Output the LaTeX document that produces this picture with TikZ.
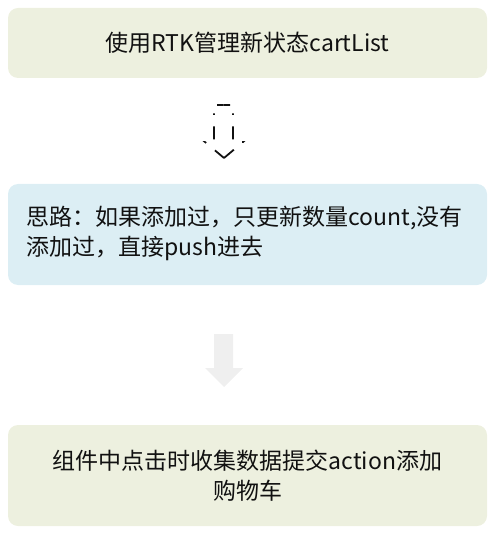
\documentclass[tikz,border=0pt]{standalone}
\usepackage{fontspec}
\setmainfont{Noto Sans CJK SC}
\usetikzlibrary{positioning}
\definecolor{color_step}{HTML}{EDF0DF}
\definecolor{color_idea}{HTML}{DCEEF4}
\definecolor{color_arrow}{HTML}{EFEFEF}
\definecolor{color_text}{HTML}{111111}
\tikzset{
  flow_box/.style={rounded corners=10pt, minimum width=479pt, inner sep=0pt, text=color_text,
    font=\fontsize{23}{30}\selectfont},
  flow_dash/.style={draw=color_text, line width=1.8pt, dash pattern=on 13pt off 11.5pt on 1.5pt off 11.5pt,
    dash phase=6.5pt},
  flow_block/.style={fill=color_arrow, draw=none},
}
\begin{document}
\begin{tikzpicture}[x=1pt, y=-1pt]
    \useasboundingbox (0,0) rectangle (501,534);
    \node[flow_box, fill=color_step, minimum height=70pt] (rtk) at (247.5,43) {使用RTK管理新状态cartList};
    \node[flow_box, fill=color_idea, minimum height=101pt] (idea) at (247.5,234.5) {};
    \node[text=color_text, font=\fontsize{23}{30}\selectfont, align=left, anchor=west, inner sep=0pt]
      (idea_text) at (26,233) {思路：如果添加过，只更新数量count,没有\\添加过，直接push进去};
    \node[flow_box, fill=color_step, minimum height=101pt, align=center] (submit) at (247.5,475.5)
      {组件中点击时收集数据提交action添加\\购物车};
    % dashed outline arrow, drawn as two mirrored halves
    \draw[flow_dash] (223.5,105) -- (233,105) -- (233,142) -- (243,142) -- (224,158);
    \draw[flow_dash] (223.5,105) -- (214,105) -- (214,142) -- (205,142) -- (224,158);
    % plain grey arrow
    \fill[flow_block] (214,334) -- (214,368) -- (205,368) -- (224,387) -- (243,368)
      -- (233,368) -- (233,334) -- cycle;
  \end{tikzpicture}
\end{document}
